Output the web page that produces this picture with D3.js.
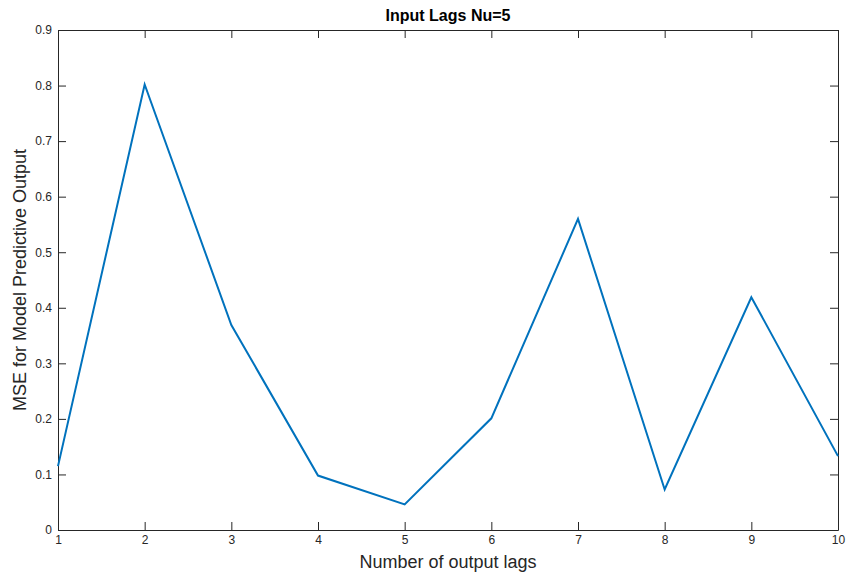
<!DOCTYPE html>
<html>
<head>
<meta charset="utf-8">
<script src="https://cdn.jsdelivr.net/npm/d3@7"></script>
<style>
  body { margin: 0; background: #fff; }
  text { font-family: "Liberation Sans", Arial, sans-serif; fill: #262626; }
</style>
</head>
<body>
<div id="chart"></div>
<script>
// data
var lags = [1, 2, 3, 4, 5, 6, 7, 8, 9, 10];
var mse = [0.115, 0.802, 0.369, 0.098, 0.046, 0.201, 0.560, 0.073, 0.419, 0.133];
var xTicks = [1, 2, 3, 4, 5, 6, 7, 8, 9, 10];
var yTicks = [0, 0.1, 0.2, 0.3, 0.4, 0.5, 0.6, 0.7, 0.8, 0.9];

var svgWidth = 846;
var svgHeight = 577;
var margin = { top: 30, right: 8, bottom: 47, left: 58 };
var width = svgWidth - margin.left - margin.right;
var height = svgHeight - margin.top - margin.bottom;

var svg = d3.select("#chart")
  .append("svg")
  .attr("width", svgWidth)
  .attr("height", svgHeight);

var chartGroup = svg.append("g")
  .attr("transform", `translate(${margin.left}, ${margin.top})`);

var x = d3.scaleLinear().domain([1, 10]).range([0, width]);
var y = d3.scaleLinear().domain([0, 0.9]).range([height, 0]);

var fmtY = d => d === 0 ? "0" : d3.format(".1f")(d);

// axes, ticks pointing inward like matlab
var bottomAxis = d3.axisBottom(x).tickValues(xTicks).tickSizeInner(-8).tickSizeOuter(0).tickPadding(5);
var topAxis = d3.axisTop(x).tickValues(xTicks).tickSizeInner(-8).tickSizeOuter(0).tickFormat("");
var leftAxis = d3.axisLeft(y).tickValues(yTicks).tickFormat(fmtY).tickSizeInner(-8).tickSizeOuter(0).tickPadding(6);
var rightAxis = d3.axisRight(y).tickValues(yTicks).tickSizeInner(-8).tickSizeOuter(0).tickFormat("");

function styleAxis(g) {
  g.select(".domain").attr("stroke", "#262626").attr("stroke-width", 1);
  g.selectAll(".tick line").attr("stroke", "#262626").attr("stroke-width", 1);
  g.selectAll(".tick text").style("font-size", "12px").attr("fill", "#262626");
}

chartGroup.append("g").attr("transform", `translate(0, ${height})`).call(bottomAxis).call(styleAxis);
chartGroup.append("g").call(topAxis).call(styleAxis);
chartGroup.append("g").call(leftAxis).call(styleAxis);
chartGroup.append("g").attr("transform", `translate(${width}, 0)`).call(rightAxis).call(styleAxis);

// the line
var line = d3.line()
  .x((d, i) => x(lags[i]))
  .y(d => y(d));

chartGroup.append("path")
  .datum(mse)
  .attr("fill", "none")
  .attr("stroke", "#0072BD")
  .attr("stroke-width", 2)
  .attr("d", line);

// labels
chartGroup.append("text")
  .attr("x", width / 2)
  .attr("y", -9)
  .attr("text-anchor", "middle")
  .style("font-size", "16px")
  .style("font-weight", "bold")
  .style("fill", "#000")
  .text("Input Lags Nu=5");

chartGroup.append("text")
  .attr("x", width / 2)
  .attr("y", height + 38)
  .attr("text-anchor", "middle")
  .style("font-size", "18px")
  .text("Number of output lags");

chartGroup.append("text")
  .attr("transform", "rotate(-90)")
  .attr("x", -height / 2)
  .attr("y", -32)
  .attr("text-anchor", "middle")
  .style("font-size", "18px")
  .text("MSE for Model Predictive Output");
</script>
</body>
</html>
